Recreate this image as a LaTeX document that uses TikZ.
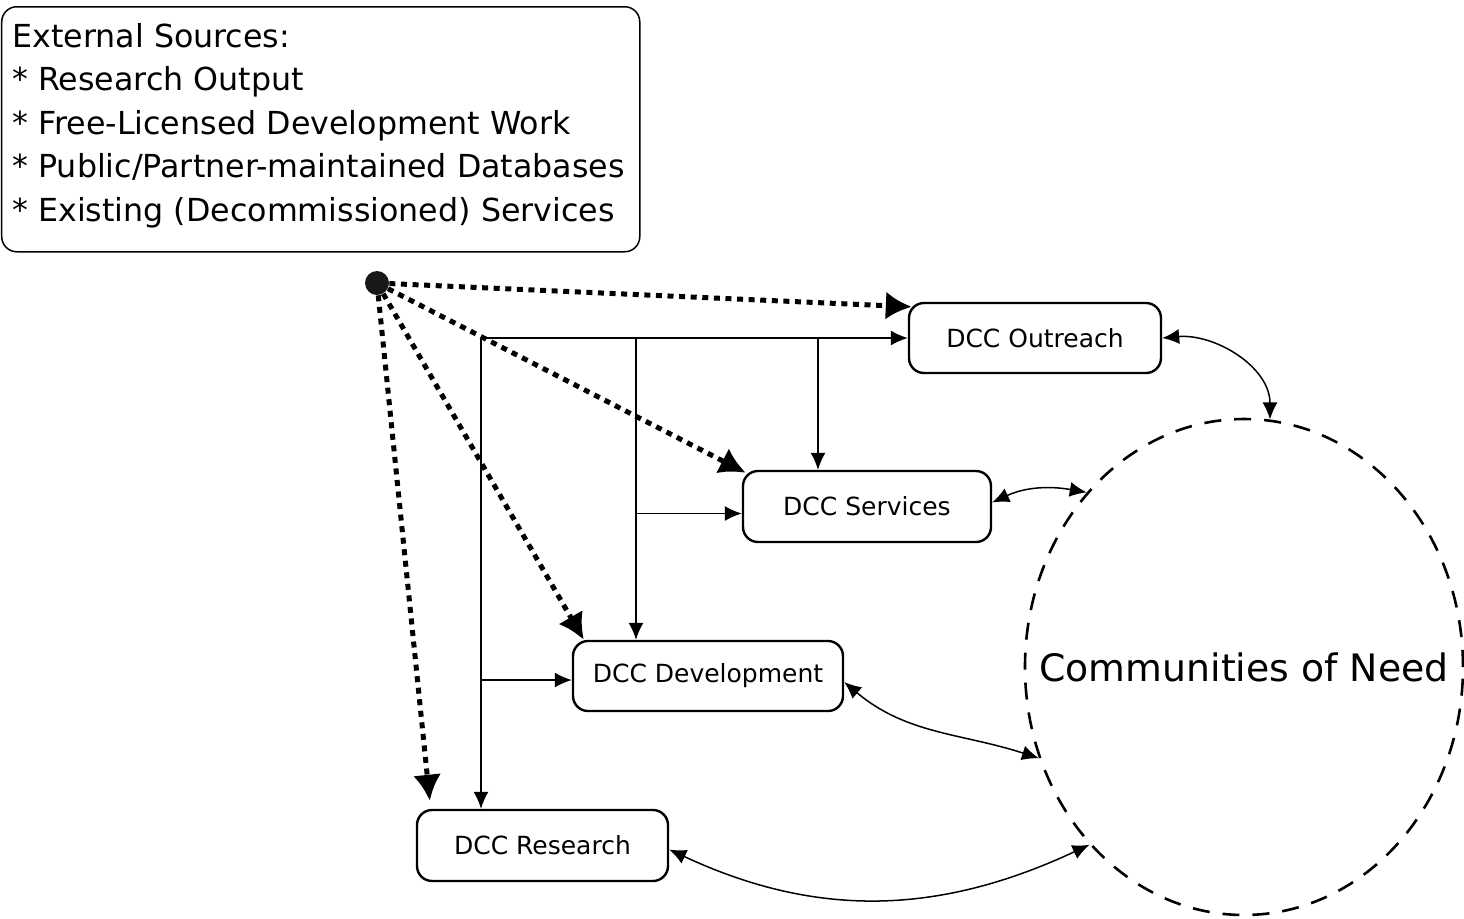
\documentclass[tikz,border=0pt]{standalone}
\usepackage{fontspec}
\setmainfont{DejaVu Sans}
\usetikzlibrary{arrows.meta,shapes.geometric}

\begin{document}
\begin{tikzpicture}[x=0.5pt,y=0.5pt,
    dccbox/.style={draw,line width=1.2pt,rounded corners=7.5pt,inner sep=0pt,
        font=\fontsize{12.5}{15}\selectfont},
    srctext/.style={font=\fontsize{15.85}{19}\selectfont,inner sep=0pt,anchor=base west},
    feed/.style={line width=2.5pt,dash pattern=on 3pt off 2.8pt,-{Latex[length=13pt,width=14pt]}},
    link/.style={line width=0.75pt,-{Latex[length=8.5pt,width=7.5pt]}},
    exchange/.style={line width=0.75pt,{Latex[length=8.5pt,width=7.5pt]}-{Latex[length=8.5pt,width=7.5pt]}}]
    \useasboundingbox (0,0) rectangle (1464,-918);
    % external sources
    \node[draw,line width=0.75pt,rounded corners=7.5pt,minimum width=319pt,minimum height=122.5pt,
        anchor=north west,inner sep=0pt] (sources) at (1,-6) {};
    \foreach \t [count=\i from 0] in {External Sources:,* Research Output,* Free-Licensed Development Work,
        * Public/Partner-maintained Databases,* Existing (Decommissioned) Services}{
        \node[srctext] (line\i) at (12,-47-43.5*\i) {\t};
    }
    \node[circle,fill=black!90,minimum size=12pt,inner sep=0pt] (src) at (377,-283) {};

    % DCC boxes
    \node[dccbox,minimum width=126pt,minimum height=35pt] (out) at (1035,-338) {DCC Outreach};
    \node[dccbox,minimum width=124pt,minimum height=35.5pt] (srv) at (867,-506.5) {DCC Services};
    \node[dccbox,minimum width=135pt,minimum height=35pt] (dev) at (708,-676) {DCC Development};
    \node[dccbox,minimum width=125.5pt,minimum height=35.5pt] (res) at (542.5,-845.5) {DCC Research};
    \node[ellipse,draw,line width=1.3pt,dash pattern=on 8.5pt off 6.5pt,minimum width=219pt,
        minimum height=248pt,inner sep=0pt] (cn) at (1244,-667) {};
    \node[font=\fontsize{18.9}{22}\selectfont,inner sep=0pt] (cnlabel) at (cn.center) {Communities of Need};

    % feeds from the sources
    \draw[feed] (src) -- ([xshift=2pt,yshift=-2.5pt]out.north west);
    \draw[feed] (src) -- ([xshift=2pt,yshift=-1.5pt]srv.north west);
    \draw[feed] (src) -- ([xshift=6pt]dev.north west);
    \draw[feed] (src) -- ([xshift=7pt,yshift=4pt]res.north west);

    % internal flow
    \coordinate (j) at (481,-338);
    \coordinate (k) at (636,-338);
    \coordinate (m) at (818,-338);
    \coordinate (sin) at ([yshift=-3.5pt]srv.west);
    \coordinate (din) at ([yshift=-2pt]dev.west);
    \draw[link] (j) -- (out.west);
    \draw[link] (j) -- (j |- res.north);
    \draw[link] (k) -- (k |- dev.north);
    \draw[link] (m) -- (m |- srv.north);
    \draw[link] (k |- sin) -- (sin);
    \draw[link] (j |- din) -- (din);

    % exchange with the communities
    \draw[exchange] (out.east) to[out=5,in=90] (cn.84);
    \draw[exchange] ([yshift=2pt]srv.east) to[out=25,in=170] (cn.132);
    \draw[exchange] ([yshift=-3pt]dev.east) to[out=-40,in=162] (cn.204);
    \draw[exchange] ([yshift=-2pt]res.east) to[out=-25,in=205] (cn.229);
\end{tikzpicture}
\end{document}
